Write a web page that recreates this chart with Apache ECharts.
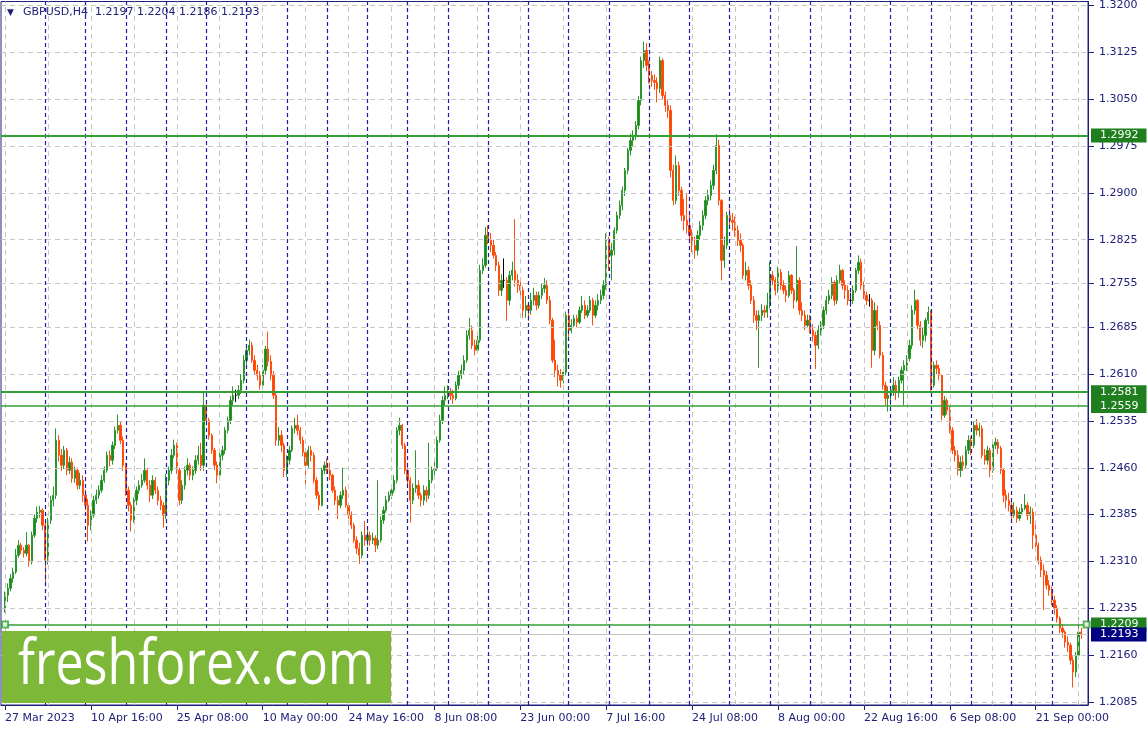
<!DOCTYPE html>
<html><head><meta charset="utf-8">
<script src="https://cdn.jsdelivr.net/npm/echarts@6/dist/echarts.min.js"></script>
<style>html,body{margin:0;padding:0;background:#fff}#c{width:1148px;height:735px}</style>
</head><body><div id="c"></div>
<script>
// GBPUSD, bars (8-hour steps), open = previous close
const symbolName = 'GBPUSD,H4';
const firstOpen = 1.2235;
const closes = [
1.2256,1.2267,1.2283,1.2293,1.2320,1.2336,1.2328,1.2323,1.2336,1.2309,1.2352,1.2379,1.2389,1.2392,1.2368,
1.2312,1.2376,1.2408,1.2416,1.2504,1.2480,1.2464,1.2488,1.2456,1.2469,1.2443,1.2456,1.2432,1.2440,1.2416,
1.2400,1.2368,1.2384,1.2408,1.2416,1.2424,1.2440,1.2456,1.2480,1.2472,1.2496,1.2520,1.2528,1.2504,1.2464,
1.2424,1.2400,1.2376,1.2408,1.2424,1.2432,1.2440,1.2456,1.2432,1.2416,1.2440,1.2424,1.2408,1.2400,1.2384,
1.2440,1.2456,1.2480,1.2496,1.2456,1.2408,1.2432,1.2456,1.2464,1.2448,1.2456,1.2472,1.2480,1.2464,1.2560,
1.2536,1.2512,1.2488,1.2464,1.2448,1.2480,1.2488,1.2520,1.2536,1.2568,1.2576,1.2576,1.2584,1.2600,1.2632,
1.2648,1.2656,1.2632,1.2616,1.2608,1.2592,1.2616,1.2650,1.2630,1.2608,1.2576,1.2504,1.2512,1.2496,1.2456,
1.2472,1.2488,1.2523,1.2528,1.2520,1.2504,1.2485,1.2464,1.2488,1.2480,1.2440,1.2416,1.2400,1.2456,1.2464,
1.2456,1.2448,1.2424,1.2408,1.2400,1.2416,1.2424,1.2400,1.2384,1.2368,1.2344,1.2331,1.2320,1.2352,1.2344,
1.2352,1.2344,1.2347,1.2336,1.2344,1.2376,1.2392,1.2408,1.2416,1.2424,1.2440,1.2520,1.2528,1.2496,1.2456,
1.2440,1.2408,1.2427,1.2432,1.2416,1.2408,1.2424,1.2416,1.2440,1.2456,1.2459,1.2504,1.2536,1.2568,1.2576,
1.2581,1.2576,1.2571,1.2592,1.2608,1.2616,1.2632,1.2672,1.2680,1.2656,1.2648,1.2664,1.2776,1.2784,1.2832,
1.2824,1.2816,1.2800,1.2784,1.2744,1.2760,1.2760,1.2728,1.2768,1.2776,1.2760,1.2752,1.2744,1.2712,1.2720,
1.2712,1.2728,1.2736,1.2720,1.2736,1.2747,1.2752,1.2728,1.2696,1.2632,1.2616,1.2608,1.2600,1.2613,1.2704,
1.2680,1.2688,1.2699,1.2693,1.2712,1.2720,1.2704,1.2712,1.2728,1.2704,1.2720,1.2728,1.2736,1.2752,1.2824,
1.2800,1.2808,1.2840,1.2864,1.2880,1.2904,1.2936,1.2968,1.2984,1.2992,1.3008,1.3048,1.3112,1.3128,1.3104,
1.3088,1.3080,1.3077,1.3067,1.3112,1.3056,1.3040,1.3032,1.2936,1.2888,1.2944,1.2904,1.2864,1.2856,1.2848,
1.2832,1.2816,1.2808,1.2832,1.2848,1.2864,1.2888,1.2896,1.2912,1.2936,1.2976,1.2888,1.2792,1.2816,1.2864,
1.2856,1.2853,1.2840,1.2824,1.2816,1.2768,1.2776,1.2752,1.2728,1.2704,1.2696,1.2704,1.2712,1.2709,1.2720,
1.2768,1.2760,1.2744,1.2773,1.2752,1.2744,1.2736,1.2768,1.2744,1.2728,1.2760,1.2712,1.2704,1.2688,1.2696,
1.2680,1.2672,1.2656,1.2680,1.2688,1.2712,1.2728,1.2736,1.2757,1.2728,1.2760,1.2776,1.2752,1.2744,1.2728,
1.2728,1.2744,1.2776,1.2789,1.2752,1.2736,1.2728,1.2728,1.2648,1.2712,1.2688,1.2640,1.2592,1.2571,1.2576,
1.2584,1.2592,1.2581,1.2600,1.2616,1.2624,1.2635,1.2656,1.2712,1.2728,1.2688,1.2664,1.2672,1.2696,1.2709,
1.2592,1.2624,1.2619,1.2608,1.2544,1.2568,1.2552,1.2520,1.2488,1.2480,1.2456,1.2469,1.2464,1.2488,1.2504,
1.2496,1.2528,1.2520,1.2523,1.2480,1.2472,1.2488,1.2456,1.2496,1.2501,1.2491,1.2456,1.2416,1.2408,1.2400,
1.2384,1.2392,1.2379,1.2389,1.2395,1.2400,1.2384,1.2389,1.2352,1.2336,1.2312,1.2296,1.2288,1.2272,1.2264,
1.2248,1.2235,1.2219,1.2203,1.2197,1.2181,1.2176,1.2152,1.2133,1.2160,1.2197,1.2193
];
const highs = [
1.2262,1.2275,1.2290,1.2300,1.2330,1.2344,1.2340,1.2333,1.2357,1.2338,1.2358,1.2385,1.2398,1.2399,1.2395,
1.2372,1.2380,1.2415,1.2430,1.2523,1.2512,1.2490,1.2495,1.2492,1.2478,1.2475,1.2462,1.2460,1.2452,1.2448,
1.2425,1.2410,1.2392,1.2415,1.2425,1.2432,1.2448,1.2462,1.2486,1.2488,1.2502,1.2526,1.2545,1.2534,1.2510,
1.2468,1.2430,1.2405,1.2412,1.2430,1.2440,1.2450,1.2475,1.2460,1.2440,1.2448,1.2445,1.2430,1.2415,1.2405,
1.2450,1.2462,1.2490,1.2505,1.2500,1.2460,1.2440,1.2462,1.2475,1.2468,1.2462,1.2480,1.2495,1.2500,1.2582,
1.2565,1.2540,1.2515,1.2492,1.2470,1.2485,1.2495,1.2525,1.2542,1.2575,1.2590,1.2585,1.2592,1.2610,1.2640,
1.2658,1.2665,1.2662,1.2640,1.2625,1.2615,1.2625,1.2655,1.2678,1.2640,1.2615,1.2580,1.2525,1.2520,1.2500,
1.2480,1.2495,1.2528,1.2540,1.2545,1.2525,1.2510,1.2490,1.2495,1.2495,1.2485,1.2445,1.2422,1.2460,1.2470,
1.2475,1.2468,1.2450,1.2430,1.2415,1.2422,1.2460,1.2430,1.2405,1.2390,1.2372,1.2350,1.2340,1.2358,1.2375,
1.2360,1.2358,1.2356,1.2352,1.2440,1.2382,1.2398,1.2415,1.2422,1.2430,1.2448,1.2525,1.2540,1.2530,1.2500,
1.2468,1.2445,1.2435,1.2488,1.2440,1.2420,1.2432,1.2430,1.2500,1.2462,1.2470,1.2510,1.2545,1.2575,1.2590,
1.2592,1.2588,1.2585,1.2598,1.2615,1.2625,1.2640,1.2680,1.2700,1.2688,1.2665,1.2672,1.2785,1.2795,1.2845,
1.2848,1.2836,1.2825,1.2805,1.2790,1.2770,1.2795,1.2765,1.2775,1.2790,1.2858,1.2770,1.2765,1.2750,1.2735,
1.2725,1.2740,1.2748,1.2742,1.2742,1.2755,1.2764,1.2760,1.2735,1.2700,1.2665,1.2625,1.2618,1.2622,1.2710,
1.2710,1.2698,1.2705,1.2705,1.2718,1.2735,1.2728,1.2720,1.2735,1.2732,1.2728,1.2738,1.2745,1.2760,1.2835,
1.2830,1.2820,1.2845,1.2870,1.2888,1.2910,1.2940,1.2972,1.2995,1.3000,1.3015,1.3055,1.3118,1.3142,1.3140,
1.3112,1.3095,1.3090,1.3085,1.3118,1.3115,1.3062,1.3050,1.3040,1.2945,1.2960,1.2950,1.2910,1.2890,1.2900,
1.2870,1.2842,1.2830,1.2840,1.2855,1.2872,1.2895,1.2905,1.2920,1.2945,1.2994,1.2985,1.2890,1.2830,1.2870,
1.2875,1.2868,1.2862,1.2848,1.2835,1.2820,1.2790,1.2782,1.2760,1.2735,1.2712,1.2712,1.2722,1.2720,1.2740,
1.2790,1.2775,1.2765,1.2782,1.2778,1.2760,1.2752,1.2775,1.2770,1.2748,1.2815,1.2765,1.2725,1.2712,1.2705,
1.2705,1.2690,1.2678,1.2688,1.2695,1.2718,1.2735,1.2745,1.2765,1.2760,1.2768,1.2785,1.2778,1.2760,1.2752,
1.2740,1.2752,1.2780,1.2800,1.2795,1.2758,1.2742,1.2738,1.2732,1.2725,1.2720,1.2695,1.2645,1.2598,1.2590,
1.2590,1.2605,1.2600,1.2606,1.2622,1.2632,1.2640,1.2665,1.2720,1.2745,1.2730,1.2695,1.2685,1.2700,1.2718,
1.2712,1.2630,1.2632,1.2625,1.2610,1.2575,1.2572,1.2558,1.2525,1.2495,1.2488,1.2478,1.2480,1.2495,1.2512,
1.2510,1.2535,1.2538,1.2532,1.2528,1.2490,1.2495,1.2492,1.2500,1.2508,1.2506,1.2495,1.2460,1.2425,1.2420,
1.2410,1.2405,1.2398,1.2396,1.2402,1.2418,1.2405,1.2398,1.2395,1.2375,1.2340,1.2318,1.2305,1.2295,1.2280,
1.2270,1.2255,1.2240,1.2222,1.2210,1.2200,1.2190,1.2180,1.2158,1.2165,1.2220,1.2204
];
const lows = [
1.2228,1.2245,1.2262,1.2276,1.2290,1.2316,1.2322,1.2316,1.2318,1.2302,1.2305,1.2348,1.2372,1.2380,1.2360,
1.2270,1.2305,1.2370,1.2398,1.2410,1.2470,1.2455,1.2458,1.2448,1.2450,1.2436,1.2436,1.2425,1.2426,1.2405,
1.2392,1.2342,1.2360,1.2380,1.2402,1.2410,1.2420,1.2436,1.2452,1.2462,1.2465,1.2490,1.2515,1.2498,1.2455,
1.2415,1.2390,1.2358,1.2372,1.2400,1.2418,1.2428,1.2436,1.2425,1.2405,1.2410,1.2418,1.2400,1.2392,1.2364,
1.2378,1.2432,1.2450,1.2475,1.2450,1.2400,1.2402,1.2425,1.2448,1.2440,1.2440,1.2450,1.2465,1.2455,1.2455,
1.2528,1.2505,1.2482,1.2456,1.2435,1.2440,1.2472,1.2482,1.2515,1.2530,1.2560,1.2565,1.2570,1.2578,1.2595,
1.2625,1.2640,1.2628,1.2610,1.2600,1.2585,1.2588,1.2610,1.2622,1.2600,1.2570,1.2495,1.2495,1.2485,1.2445,
1.2445,1.2465,1.2485,1.2515,1.2512,1.2498,1.2478,1.2430,1.2460,1.2470,1.2435,1.2410,1.2392,1.2398,1.2450,
1.2450,1.2440,1.2420,1.2400,1.2378,1.2395,1.2410,1.2396,1.2378,1.2362,1.2340,1.2322,1.2306,1.2315,1.2335,
1.2335,1.2335,1.2338,1.2325,1.2330,1.2340,1.2370,1.2388,1.2405,1.2410,1.2420,1.2435,1.2512,1.2490,1.2450,
1.2432,1.2372,1.2402,1.2420,1.2410,1.2398,1.2400,1.2405,1.2410,1.2435,1.2448,1.2455,1.2500,1.2530,1.2560,
1.2570,1.2568,1.2562,1.2568,1.2585,1.2602,1.2610,1.2628,1.2665,1.2650,1.2640,1.2642,1.2660,1.2770,1.2780,
1.2818,1.2805,1.2795,1.2775,1.2735,1.2735,1.2748,1.2695,1.2720,1.2760,1.2750,1.2740,1.2730,1.2700,1.2700,
1.2695,1.2705,1.2720,1.2712,1.2715,1.2730,1.2740,1.2722,1.2690,1.2628,1.2605,1.2590,1.2588,1.2595,1.2608,
1.2668,1.2675,1.2685,1.2685,1.2690,1.2708,1.2698,1.2700,1.2708,1.2688,1.2700,1.2712,1.2722,1.2730,1.2745,
1.2775,1.2760,1.2800,1.2835,1.2858,1.2872,1.2895,1.2930,1.2960,1.2975,1.2985,1.3002,1.3040,1.3100,1.3095,
1.3075,1.3070,1.3065,1.3045,1.3060,1.3050,1.3030,1.3020,1.2925,1.2880,1.2882,1.2895,1.2855,1.2840,1.2835,
1.2825,1.2805,1.2795,1.2800,1.2825,1.2840,1.2858,1.2880,1.2888,1.2905,1.2930,1.2880,1.2760,1.2780,1.2810,
1.2845,1.2840,1.2830,1.2815,1.2805,1.2762,1.2760,1.2745,1.2722,1.2692,1.2680,1.2620,1.2695,1.2700,1.2700,
1.2715,1.2752,1.2736,1.2740,1.2745,1.2738,1.2725,1.2732,1.2738,1.2715,1.2725,1.2705,1.2695,1.2680,1.2685,
1.2675,1.2662,1.2618,1.2650,1.2672,1.2682,1.2705,1.2722,1.2730,1.2720,1.2722,1.2755,1.2745,1.2730,1.2720,
1.2718,1.2722,1.2740,1.2770,1.2745,1.2730,1.2720,1.2718,1.2620,1.2640,1.2680,1.2635,1.2585,1.2560,1.2550,
1.2560,1.2575,1.2568,1.2572,1.2595,1.2560,1.2615,1.2630,1.2650,1.2705,1.2682,1.2655,1.2652,1.2662,1.2690,
1.2580,1.2588,1.2610,1.2600,1.2536,1.2540,1.2545,1.2515,1.2482,1.2470,1.2448,1.2445,1.2455,1.2458,1.2482,
1.2480,1.2492,1.2512,1.2510,1.2475,1.2465,1.2465,1.2445,1.2452,1.2490,1.2482,1.2450,1.2405,1.2395,1.2390,
1.2376,1.2380,1.2372,1.2375,1.2385,1.2392,1.2376,1.2370,1.2330,1.2325,1.2305,1.2285,1.2232,1.2265,1.2255,
1.2240,1.2225,1.2212,1.2195,1.2188,1.2172,1.2165,1.2145,1.2108,1.2125,1.2155,1.2186
];
const timeTickLabels = ['27 Mar 2023','10 Apr 16:00','25 Apr 08:00','10 May 00:00','24 May 16:00','8 Jun 08:00',
  '23 Jun 00:00','7 Jul 16:00','24 Jul 08:00','8 Aug 00:00','22 Aug 16:00','6 Sep 08:00','21 Sep 00:00'];
const priceTicks = [1.2085,1.2160,1.2235,1.2310,1.2385,1.2460,1.2535,1.2610,1.2685,1.2755,1.2825,1.2900,1.2975,1.3050,1.3125,1.3200];
const levelPrices = [1.2992, 1.2581, 1.2559, 1.2209];
const bidPrice = 1.2193;

// ---- build ----
const MONTHS = ['Jan','Feb','Mar','Apr','May','Jun','Jul','Aug','Sep','Oct','Nov','Dec'];
const barTimes = [];
let t = Date.UTC(2023, 2, 27, 0);
for (let i = 0; i < closes.length; i++) {
  const d = new Date(t);
  barTimes.push(d.getUTCDate() + ' ' + MONTHS[d.getUTCMonth()] + ' ' + String(d.getUTCHours()).padStart(2, '0') + ':00');
  t += 8 * 3600e3;
  if (new Date(t).getUTCDay() === 6) t += 2 * 86400e3;
}
const categories = [' '].concat(barTimes, ['  ', '   ']);
const candles = [];
let prev = firstOpen;
const ohlc = [];
for (let i = 0; i < closes.length; i++) {
  const o = prev, c = closes[i];
  const h = Math.max(highs[i], o, c), l = Math.min(lows[i], o, c);
  candles.push([i + 1, o, c, l, h]);
  ohlc.push([o, h, l, c]);
  prev = c;
}
const last = ohlc[ohlc.length - 1];
const NAVY = '#20207a';
const FONT = 'DejaVu Sans';

const gridLines = [];
priceTicks.forEach(v => gridLines.push({ yAxis: v, lineStyle: { color: '#c6c6c6', type: [5, 4], width: 1 } }));
for (let k = 0; k * 16 < closes.length; k++) gridLines.push({ xAxis: 16 * k + 1, lineStyle: { color: '#c6c6c6', type: [5, 4], width: 1 } });
for (let k = 1; k * 15 < closes.length; k++) gridLines.push({ xAxis: 15 * k + 1, lineStyle: { color: '#1c1ca6', type: [4, 3], width: 1.2 } });

const boxLabel = (txt, bg) => ({ show: true, position: 'end', distance: 3, formatter: txt, color: '#fff', backgroundColor: bg,
  padding: [1, 8, 1, 9], fontFamily: FONT, fontSize: 11, lineHeight: 12 });
const levelLines = [{
  yAxis: bidPrice,
  lineStyle: { color: '#c4c4c4', type: 'solid', width: 1 },
  label: { show: false }
}];
levelPrices.forEach((v, i) => levelLines.push({
  yAxis: v,
  lineStyle: { color: '#33a033', type: 'solid', width: i < 2 ? 2 : 1.5 },
  label: boxLabel(v.toFixed(4), '#1f7f1f')
}));
const bidLabelLine = [{ yAxis: bidPrice, lineStyle: { color: 'rgba(255,255,255,0)', width: 1 }, label: boxLabel(bidPrice.toFixed(4), '#000080') }];

const isTick = idx => idx >= 1 && (idx - 1) % 32 === 0 && (idx - 1) / 32 < timeTickLabels.length;

const chart = echarts.init(document.getElementById('c'), null, { renderer: 'canvas' });
chart.setOption({
  animation: false,
  backgroundColor: '#ffffff',
  grid: { left: 1, right: 60, top: 1, bottom: 30, show: true, borderColor: NAVY, borderWidth: 1, backgroundColor: 'transparent' },
  xAxis: {
    type: 'category', data: categories, boundaryGap: true,
    axisLine: { show: true, lineStyle: { color: NAVY, width: 1 } },
    axisTick: { show: true, alignWithLabel: true, interval: (idx) => isTick(idx), length: 5, lineStyle: { color: NAVY } },
    axisLabel: { show: true, interval: (idx) => isTick(idx), formatter: (val, idx) => timeTickLabels[(idx - 1) / 32] || '',
      align: 'left', margin: 8, color: NAVY, fontFamily: FONT, fontSize: 11 },
    splitLine: { show: false }
  },
  yAxis: {
    type: 'value', position: 'right', min: 1.20802, max: 1.32064,
    axisLine: { show: true, lineStyle: { color: NAVY, width: 1 } },
    axisTick: { show: true, length: 6, customValues: priceTicks, lineStyle: { color: NAVY } },
    axisLabel: { show: true, customValues: priceTicks, formatter: v => v.toFixed(4), margin: 11, color: NAVY, fontFamily: FONT, fontSize: 11 },
    splitLine: { show: false }
  },
  series: [
    { type: 'line', data: [], z: 1, silent: true,
      markLine: { silent: true, symbol: 'none', precision: 6, animation: false, label: { show: false }, data: gridLines } },
    { type: 'candlestick', z: 3, data: candles, encode: { x: 0, y: [1, 2, 3, 4] }, barWidth: 1.8,
      itemStyle: { color: '#138a13', borderColor: '#2c962c', color0: '#ff4500', borderColor0: '#ff4f10', borderColorDoji: '#000000', borderWidth: 1 } },
    { type: 'line', data: [], z: 4, silent: true,
      markLine: { silent: true, symbol: 'none', precision: 6, animation: false, data: levelLines } },
    { type: 'line', data: [], z: 6, silent: true,
      markLine: { silent: true, symbol: 'none', precision: 6, animation: false, data: bidLabelLine } },
    { type: 'scatter', z: 5, silent: true, symbol: 'emptyRect', symbolSize: 6,
      itemStyle: { color: '#33a033', borderColor: '#33a033', borderWidth: 1.5 },
      data: [[1, levelPrices[3]], [categories.length - 1, levelPrices[3]]] }
  ],
  graphic: [
    { type: 'text', left: 7, top: 8, z: 10, style: { text: '▼', font: '9px "DejaVu Sans"', fill: NAVY } },
    { type: 'text', left: 23, top: 7, z: 10, style: { text: symbolName + '  ' + last.map(v => v.toFixed(4)).join(' '), font: '11px "DejaVu Sans"', fill: NAVY } },
    { type: 'rect', z: 20, shape: { x: 2, y: 631, width: 389, height: 72 }, style: { fill: '#7db839' } },
    { type: 'text', z: 21, x: 18, y: 666, scaleX: 0.81, scaleY: 1, style: { text: 'freshforex.com', font: '62px "Open Sans"', fill: '#ffffff', textVerticalAlign: 'middle', textAlign: 'left' } }
  ]
});
</script>
</body></html>
